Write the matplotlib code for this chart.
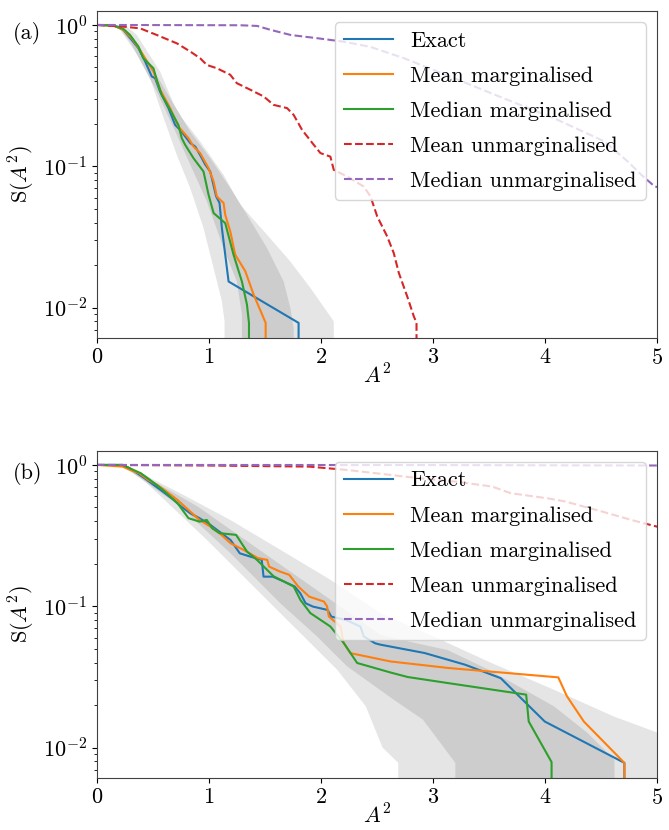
import numpy as np
import matplotlib
matplotlib.use("Agg")
import matplotlib.pyplot as plt

plt.rcParams['font.family'] = 'serif'
plt.rcParams['font.serif'] = ['cmr10', 'DejaVu Serif']
plt.rcParams['mathtext.fontset'] = 'cm'
plt.rcParams['axes.formatter.use_mathtext'] = True
plt.rcParams['font.size'] = 16

labels = ['Exact', 'Mean marginalised', 'Median marginalised',
          'Mean unmarginalised', 'Median unmarginalised']

# ---- panel (a) ----
a_exact_x = [0, 0.15, 0.236, 0.31, 0.37, 0.43, 0.489, 0.519, 0.563, 0.638, 0.698, 0.742,
             0.832, 0.877, 0.921, 0.966, 1.011, 1.064, 1.094, 1.115, 1.175, 1.80, 1.80]
a_exact_s = [1, 0.995, 0.923, 0.783, 0.684, 0.551, 0.432, 0.420, 0.338, 0.258, 0.196, 0.181,
             0.146, 0.138, 0.120, 0.103, 0.0918, 0.0612, 0.055, 0.0366, 0.0153, 0.0078, 0]
a_mean_x = [0, 0.146, 0.236, 0.31, 0.385, 0.429, 0.504, 0.564, 0.653, 0.727, 0.817, 0.862,
            0.921, 0.996, 1.041, 1.07, 1.13, 1.145, 1.19, 1.234, 1.324, 1.398, 1.506, 1.506]
a_mean_s = [1, 0.989, 0.923, 0.805, 0.665, 0.581, 0.468, 0.348, 0.258, 0.191, 0.158, 0.138,
            0.124, 0.097, 0.0782, 0.0612, 0.055, 0.0454, 0.0346, 0.0237, 0.0181, 0.0124, 0.0078, 0]
a_med_x = [0, 0.146, 0.236, 0.295, 0.37, 0.414, 0.504, 0.534, 0.578, 0.653, 0.727, 0.757,
           0.787, 0.862, 0.951, 0.996, 1.041, 1.145, 1.219, 1.294, 1.339, 1.357, 1.357]
a_med_s = [1, 0.989, 0.937, 0.849, 0.703, 0.581, 0.494, 0.408, 0.320, 0.251, 0.196, 0.158,
           0.142, 0.114, 0.0918, 0.063, 0.0467, 0.0396, 0.0237, 0.0153, 0.0105, 0.0078, 0]
a_umean_x = [0, 0.236, 0.385, 0.534, 0.713, 0.832, 0.921, 0.981, 1.070, 1.190, 1.249, 1.369,
             1.488, 1.577, 1.697, 1.756, 1.831, 1.935, 1.995, 2.084, 2.114, 2.233, 2.382,
             2.442, 2.502, 2.591, 2.650, 2.695, 2.770, 2.829, 2.853, 2.853]
a_umean_s = [1, 0.973, 0.946, 0.849, 0.741, 0.649, 0.581, 0.521, 0.494, 0.444, 0.387, 0.348,
             0.312, 0.272, 0.258, 0.231, 0.181, 0.142, 0.124, 0.117, 0.0944, 0.0847, 0.0719,
             0.0612, 0.0442, 0.0319, 0.0243, 0.0176, 0.012, 0.00867, 0.0078, 0]
a_umed_x = [0, 1.28, 1.43, 1.55, 1.73, 1.97, 2.20, 2.44, 2.74, 3.19, 3.63, 4.08, 4.53,
            4.74, 4.86, 4.98, 5.3]
a_umed_s = [1, 0.995, 0.984, 0.923, 0.849, 0.805, 0.762, 0.70, 0.582, 0.42, 0.303, 0.219,
            0.150, 0.108, 0.0871, 0.0719, 0.065]

a_light_lo = ([0.15, 0.206, 0.444, 0.564, 0.713, 0.832, 0.951, 1.041, 1.115, 1.139, 1.139],
              [1, 0.923, 0.494, 0.258, 0.120, 0.0702, 0.0366, 0.0191, 0.0111, 0.008, 1e-4])
a_light_hi = ([0.25, 0.355, 0.564, 0.713, 0.921, 1.13, 1.279, 1.518, 1.726, 1.905, 2.114, 2.125],
              [1, 0.849, 0.468, 0.244, 0.150, 0.0871, 0.0535, 0.0328, 0.0212, 0.0138, 0.008, 1e-4])
a_dark_lo = ([0.18, 0.295, 0.534, 0.713, 0.832, 0.981, 1.13, 1.249, 1.294, 1.30],
             [1, 0.762, 0.338, 0.167, 0.103, 0.0564, 0.0264, 0.0153, 0.00893, 1e-4])
a_dark_hi = ([0.22, 0.444, 0.653, 0.832, 1.011, 1.19, 1.339, 1.518, 1.667, 1.726, 1.756, 1.77],
             [1, 0.581, 0.303, 0.176, 0.114, 0.0702, 0.0454, 0.0264, 0.0153, 0.00995, 0.00718, 1e-4])

# ---- panel (b) ----
b_exact_x = [0, 0.229, 0.294, 0.359, 0.425, 0.507, 0.588, 0.686, 0.752, 0.833, 0.915, 1.013,
             1.111, 1.193, 1.275, 1.373, 1.471, 1.487, 1.569, 1.667, 1.765, 1.814, 1.863,
             1.928, 2.059, 2.092, 2.222, 2.352, 2.382, 2.484, 2.531, 2.925, 3.287, 3.605,
             3.998, 4.709, 4.709]
b_exact_s = [1, 1, 0.946, 0.873, 0.805, 0.721, 0.647, 0.565, 0.507, 0.455, 0.420, 0.376,
             0.329, 0.294, 0.237, 0.224, 0.213, 0.162, 0.162, 0.150, 0.138, 0.124, 0.105,
             0.0995, 0.0942, 0.0845, 0.080, 0.0719, 0.0612, 0.0547, 0.0535, 0.0467, 0.0386,
             0.031, 0.0153, 0.0078, 0]
b_mean_x = [0, 0.229, 0.294, 0.376, 0.458, 0.539, 0.621, 0.719, 0.801, 0.850, 0.915, 1.013,
            1.111, 1.193, 1.307, 1.438, 1.520, 1.536, 1.634, 1.716, 1.797, 1.895, 2.026,
            2.054, 2.07, 2.174, 2.203, 2.263, 2.621, 3.136, 4.119, 4.196, 4.347, 4.709, 4.709]
b_mean_s = [1, 0.973, 0.923, 0.873, 0.783, 0.721, 0.647, 0.565, 0.493, 0.455, 0.408, 0.366,
            0.320, 0.279, 0.251, 0.219, 0.213, 0.191, 0.176, 0.167, 0.138, 0.117, 0.108,
            0.1, 0.0847, 0.0719, 0.055, 0.0466, 0.0407, 0.0366, 0.0314, 0.0231, 0.0153, 0.0078, 0]
b_med_x = [0, 0.229, 0.294, 0.392, 0.474, 0.588, 0.719, 0.817, 0.915, 0.980, 1.029, 1.095,
           1.242, 1.339, 1.428, 1.577, 1.756, 1.816, 1.905, 2.084, 2.203, 2.323, 2.621,
           2.773, 3.136, 3.832, 3.855, 4.059, 4.059]
b_med_s = [1, 1, 0.946, 0.873, 0.783, 0.665, 0.536, 0.420, 0.397, 0.408, 0.356, 0.329,
           0.320, 0.244, 0.213, 0.163, 0.138, 0.111, 0.0895, 0.0719, 0.055, 0.0397, 0.034,
           0.0316, 0.0286, 0.0237, 0.0153, 0.0079, 0]
b_umean_x = [0, 1.0, 1.895, 2.222, 2.549, 2.876, 3.203, 3.529, 3.693, 4.020, 4.183, 4.510,
             4.771, 5.0, 5.2]
b_umean_s = [1, 0.99, 0.973, 0.923, 0.863, 0.805, 0.762, 0.703, 0.631, 0.581, 0.551, 0.468,
             0.408, 0.366, 0.34]
b_umed_x = [0, 3.0, 5.2]
b_umed_s = [1, 0.998, 0.99]

b_light_lo = ([0.2, 0.414, 0.981, 1.398, 1.786, 2.144, 2.40, 2.55, 2.69, 2.69],
              [1, 0.783, 0.295, 0.138, 0.0682, 0.0356, 0.0196, 0.01, 0.0078, 1e-4])
b_light_hi = ([0.25, 0.742, 1.19, 1.637, 2.084, 2.531, 3.068, 3.515, 4.079, 4.615, 5.0, 5.3, 5.3],
              [1, 0.631, 0.408, 0.251, 0.154, 0.0895, 0.058, 0.0399, 0.0257, 0.0166, 0.0128, 0.011, 1e-4])
b_dark_lo = ([0.22, 0.742, 1.19, 1.637, 1.965, 2.233, 2.65, 2.91, 3.20, 3.20],
             [1, 0.507, 0.238, 0.105, 0.0612, 0.0376, 0.0218, 0.0158, 0.0078, 1e-4])
b_dark_hi = ([0.25, 0.9, 1.49, 2.08, 2.53, 2.83, 3.13, 3.5, 4.08, 4.38, 4.62, 4.64],
             [1, 0.507, 0.238, 0.112, 0.063, 0.0552, 0.049, 0.0355, 0.0196, 0.0127, 0.0082, 1e-4])

panels = [
    ('(a)', [a_light_lo, a_light_hi, a_dark_lo, a_dark_hi],
     [(a_exact_x, a_exact_s), (a_mean_x, a_mean_s), (a_med_x, a_med_s),
      (a_umean_x, a_umean_s), (a_umed_x, a_umed_s)]),
    ('(b)', [b_light_lo, b_light_hi, b_dark_lo, b_dark_hi],
     [(b_exact_x, b_exact_s), (b_mean_x, b_mean_s), (b_med_x, b_med_s),
      (b_umean_x, b_umean_s), (b_umed_x, b_umed_s)]),
]

colors = ['tab:blue', 'tab:orange', 'tab:green', 'tab:red', 'tab:purple']
styles = ['-', '-', '-', '--', '--']

fig = plt.figure(figsize=(6.69, 8.30), dpi=100)
bottoms = [0.5928, 0.0627]

for (tag, bands, curves), bot in zip(panels, bottoms):
    ax = fig.add_axes([0.145, bot, 0.837, 0.394])
    light_lo, light_hi, dark_lo, dark_hi = bands
    ax.fill(light_lo[0] + light_hi[0][::-1], light_lo[1] + light_hi[1][::-1],
            color='#e5e5e5', lw=0, zorder=0)
    ax.fill(dark_lo[0] + dark_hi[0][::-1], dark_lo[1] + dark_hi[1][::-1],
            color='#cdcdcd', lw=0, zorder=0.5)
    for (x, s), c, ls, lab in zip(curves, colors, styles, labels):
        ax.plot(x, s, color=c, ls=ls, lw=1.5, label=lab)
    ax.set_yscale('log')
    ax.set_xlim(0, 5)
    ax.set_ylim(0.0061, 1.256)
    ax.set_xticks([0, 1, 2, 3, 4, 5])
    ax.set_xlabel(r'$A^2$', labelpad=-3)
    ax.set_ylabel(r'S$(A^2)$')
    ax.tick_params(labelsize=16)
    for sp in ax.spines.values():
        sp.set_color('0.25')
    ax.legend(loc='upper right', fontsize=16, handlelength=2.2, labelspacing=0.7)
    fig.text(0.019, bot + 0.394 - 0.027, tag, fontsize=16, va='center')

fig.savefig('out.png', dpi=100)
